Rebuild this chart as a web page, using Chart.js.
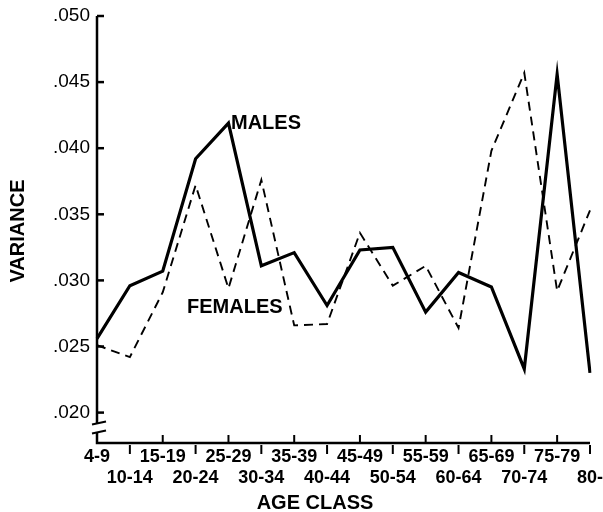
<!DOCTYPE html>
<html>
<head>
<meta charset="utf-8">
<script src="https://cdn.jsdelivr.net/npm/chart.js@4/dist/chart.umd.min.js"></script>
<style>
  html, body { margin: 0; padding: 0; background: #fff; }
  canvas { display: block; }
</style>
</head>
<body>
<canvas id="myChart" width="603" height="512"></canvas>
<script>
// data
const ageClasses = ["4-9", "10-14", "15-19", "20-24", "25-29", "30-34", "35-39", "40-44",
  "45-49", "50-54", "55-59", "60-64", "65-69", "70-74", "75-79", "80-"];
const males = [0.0256, 0.0296, 0.0307, 0.0392, 0.0419, 0.0311, 0.0321, 0.0281,
  0.0323, 0.0325, 0.0276, 0.0306, 0.0295, 0.0233, 0.0456, 0.0230];
const females = [0.0251, 0.0242, 0.0291, 0.0372, 0.0294, 0.0376, 0.0266, 0.0267,
  0.0336, 0.0296, 0.0311, 0.0264, 0.0398, 0.0457, 0.0292, 0.0353];
const yTicks = [0.020, 0.025, 0.030, 0.035, 0.040, 0.045, 0.050];

const FONT = "'Liberation Sans', Arial, sans-serif";

function fmt(v) {
  return v.toFixed(3).replace(/^0/, "");
}

function line(ctx, x1, y1, x2, y2) {
  ctx.beginPath();
  ctx.moveTo(x1, y1);
  ctx.lineTo(x2, y2);
  ctx.stroke();
}

// hand drawn style axes, break marks and labels
const axesPlugin = {
  id: "axes",
  afterDraw(chart) {
    const ctx = chart.ctx;
    const xs = chart.scales.x;
    const ys = chart.scales.y;
    const left = chart.chartArea.left;
    const bottom = chart.chartArea.bottom;
    const top = ys.getPixelForValue(0.050);
    const low = ys.getPixelForValue(0.020);

    ctx.save();
    ctx.strokeStyle = "#000";
    ctx.lineWidth = 2.5;

    // y axis, broken below .020
    line(ctx, left, top, left, low + 11);
    ctx.beginPath();
    ctx.moveTo(left, low + 20);
    ctx.lineTo(left, bottom);
    ctx.lineTo(xs.right, bottom);
    ctx.stroke();
    ctx.lineWidth = 2;
    line(ctx, left - 5, low + 12, left + 9, low + 9);
    line(ctx, left - 5, low + 21, left + 9, low + 18);

    ctx.lineWidth = 2.5;
    yTicks.forEach((v) => {
      const py = ys.getPixelForValue(v);
      line(ctx, left, py, left + 7, py);
    });

    ctx.lineWidth = 2;
    ageClasses.forEach((c, i) => {
      if (i === 0) return;
      const px = xs.getPixelForValue(i);
      if (i % 2 === 0) {
        line(ctx, px, bottom, px, bottom - 8);
      } else {
        line(ctx, px, bottom + 2, px, bottom + 11);
      }
    });

    ctx.fillStyle = "#000";
    ctx.font = "bold 20px " + FONT;
    ctx.textBaseline = "middle";
    ctx.textAlign = "center";
    ctx.fillText("AGE CLASS", 315, 503);

    ctx.save();
    ctx.translate(18, 231);
    ctx.rotate(-Math.PI / 2);
    ctx.fillText("VARIANCE", 0, 0);
    ctx.restore();

    ctx.textAlign = "left";
    ctx.textBaseline = "alphabetic";
    ctx.font = "bold 20px " + FONT;
    ctx.fillText("MALES", 231, 129);
    ctx.fillText("FEMALES", 187, 313);
    ctx.restore();
  },
};

const ctx = document.getElementById("myChart").getContext("2d");
const chart = new Chart(ctx, {
  type: "line",
  data: {
    labels: ageClasses,
    datasets: [
      {
        label: "MALES",
        data: males,
        borderColor: "#000",
        borderWidth: 3.2,
        pointRadius: 0,
        tension: 0,
        fill: false,
      },
      {
        label: "FEMALES",
        data: females,
        borderColor: "#000",
        borderWidth: 1.9,
        borderDash: [9, 6],
        pointRadius: 0,
        tension: 0,
        fill: false,
      },
    ],
  },
  options: {
    responsive: false,
    animation: false,
    layout: { padding: { left: 0, top: 16, right: 13, bottom: 0 } },
    plugins: {
      legend: { display: false },
      tooltip: { enabled: false },
    },
    scales: {
      x: {
        type: "category",
        offset: false,
        grid: { display: false, drawTicks: false },
        border: { display: false },
        ticks: {
          autoSkip: false,
          maxRotation: 0,
          minRotation: 0,
          padding: 4,
          color: "#000",
          font: { family: FONT, size: 18, weight: "bold", lineHeight: 1.15 },
          callback: (v, i) => (i % 2 === 0 ? [ageClasses[i], ""] : ["", ageClasses[i]]),
        },
        afterFit: (scale) => {
          scale.height = 69;
          scale.paddingLeft = 0;
          scale.paddingRight = 0;
        },
      },
      y: {
        min: 0.0177,
        max: 0.050,
        grid: { display: false, drawTicks: false },
        border: { display: false },
        afterBuildTicks: (scale) => {
          scale.ticks = yTicks.map((v) => ({ value: v }));
        },
        ticks: {
          padding: 7,
          color: "#000",
          font: { family: FONT, size: 19 },
          callback: (v) => fmt(v),
        },
        afterFit: (scale) => {
          scale.width = 97;
          scale.paddingTop = 0;
          scale.paddingBottom = 0;
        },
      },
    },
  },
  plugins: [axesPlugin],
});
</script>
</body>
</html>
